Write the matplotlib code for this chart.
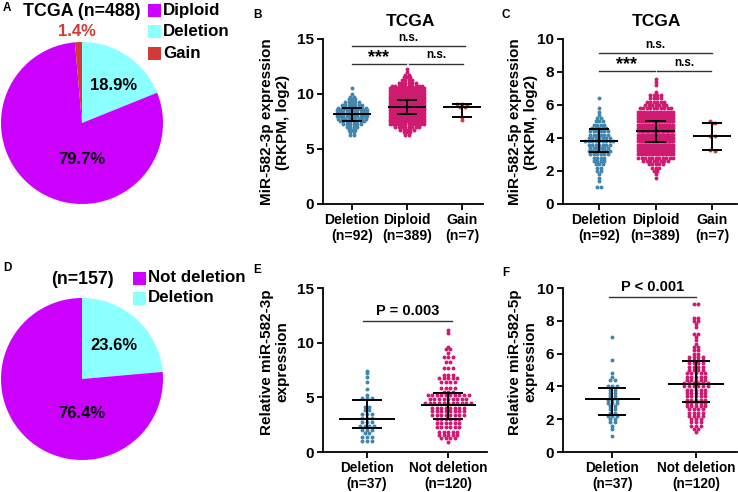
import numpy as np
import matplotlib
matplotlib.use("Agg")
import matplotlib.pyplot as plt
from matplotlib.patches import Rectangle

plt.rcParams['font.family'] = ['Liberation Sans', 'DejaVu Sans']
plt.rcParams['font.weight'] = 'bold'

W, H = 738, 492

# ---------------- DATA ----------------
pieA_labels = ["Deletion", "Diploid", "Gain"]
pieA_values = [18.9, 79.7, 1.4]
pieA_legend = ["Diploid", "Deletion", "Gain"]
pieD_labels = ["Deletion", "Not deletion"]
pieD_values = [23.6, 76.4]
pieD_legend = ["Not deletion", "Deletion"]

tcga_cats = ["Deletion\n(n=92)", "Diploid\n(n=389)", "Gain\n(n=7)"]
val_cats = ["Deletion\n(n=37)", "Not deletion\n(n=120)"]

# Panel B (miR-582-3p, TCGA) : row levels and number of dots per row
b_del_levels = [6.25, 6.5, 6.75, 7.0, 7.25, 7.5, 7.75, 8.0, 8.25, 8.5, 8.75, 9.0, 9.25, 9.5, 9.75, 10.0, 10.5]
b_del_counts = [2, 2, 3, 4, 6, 8, 9, 10, 10, 10, 9, 7, 5, 3, 2, 1, 1]
b_dip_levels = [6.25, 6.5, 6.75, 7.0, 7.25, 7.5, 7.75, 8.0, 8.25, 8.5, 8.75, 9.0, 9.25, 9.5, 9.75,
                10.0, 10.25, 10.5, 10.75, 11.0, 11.25, 11.5, 11.75, 12.0, 12.25]
b_dip_counts = [2, 3, 5, 8, 12, 16, 20, 26, 30, 34, 36, 35, 32, 29, 24, 21, 16, 13, 10, 6, 4, 3, 2, 1, 1]
b_gain_values = [9.07, 9.07, 9.0, 8.85, 8.8, 7.95, 7.64]
b_median = [8.18, 8.82, 8.82]
b_q1 = [7.55, 8.15, 7.88]
b_q3 = [8.75, 9.45, 9.07]

# Panel C (miR-582-5p, TCGA)
c_del_levels = [1.0, 1.4, 1.6, 1.8, 2.0, 2.2, 2.4, 2.6, 2.8, 3.0, 3.2, 3.4, 3.6, 3.8, 4.0, 4.2, 4.4,
                4.6, 4.8, 5.0, 5.2, 5.4, 5.6, 5.8, 6.4]
c_del_counts = [2, 1, 1, 1, 2, 2, 3, 4, 4, 6, 7, 6, 7, 9, 7, 6, 6, 5, 4, 3, 2, 1, 1, 1, 1]
c_dip_levels = [1.6, 1.8, 2.0, 2.2, 2.4, 2.6, 2.8, 3.0, 3.2, 3.4, 3.6, 3.8, 4.0, 4.2, 4.4, 4.6, 4.8,
                5.0, 5.2, 5.4, 5.6, 5.8, 6.0, 6.2, 6.4, 6.6, 6.8, 7.2, 7.4, 7.6]
c_dip_counts = [1, 1, 2, 3, 5, 8, 11, 15, 18, 21, 24, 27, 28, 29, 29, 28, 27, 24, 21, 18, 13, 10, 7,
                6, 4, 4, 1, 1, 1, 1]
c_gain_values = [5.0, 4.92, 4.88, 4.15, 4.1, 3.28, 3.2]
c_median = [3.82, 4.42, 4.12]
c_q1 = [3.17, 3.78, 3.27]
c_q3 = [4.52, 5.05, 4.89]

# Panel E (relative miR-582-3p)
e_del_levels = [1.0, 1.35, 1.7, 2.05, 2.4, 2.75, 3.1, 3.45, 3.8, 4.15, 4.9, 5.2, 5.8, 6.4, 6.9, 7.2, 7.45]
e_del_counts = [3, 3, 2, 3, 4, 3, 3, 3, 2, 2, 3, 1, 1, 1, 1, 1, 1]
e_nd_levels = [0.95, 1.25, 1.56, 1.86, 2.26, 2.62, 3.02, 3.38, 3.75, 4.05, 4.46, 4.85, 5.21, 5.52,
               5.88, 6.38, 6.74, 7.04, 7.71, 8.26, 8.66, 9.03, 9.4, 9.63, 10.9, 11.2]
e_nd_counts = [1, 4, 5, 5, 6, 6, 6, 8, 8, 8, 11, 9, 10, 3, 4, 4, 5, 3, 3, 2, 3, 1, 2, 1, 1, 1]
e_median = [3.0, 4.33]
e_q1 = [2.21, 3.06]
e_q3 = [4.73, 5.42]

# Panel F (relative miR-582-5p)
f_del_levels = [1.0, 1.4, 1.6, 1.8, 2.0, 2.2, 2.4, 2.6, 2.8, 3.0, 3.2, 3.4, 3.6, 3.8, 4.0, 4.4, 4.6, 4.8, 5.6, 7.0]
f_del_counts = [1, 1, 1, 2, 2, 3, 2, 2, 2, 3, 3, 2, 2, 2, 3, 2, 1, 1, 1, 1]
f_nd_levels = [1.2, 1.4, 1.6, 1.8, 2.0, 2.2, 2.4, 2.6, 2.8, 3.0, 3.2, 3.4, 3.6, 3.8, 4.0, 4.2, 4.4,
               4.6, 4.8, 5.0, 5.2, 5.4, 5.6, 5.8, 6.0, 6.2, 6.4, 6.6, 6.8, 7.0, 7.2, 7.6, 7.8, 8.0, 8.2, 9.0]
f_nd_counts = [1, 2, 3, 3, 3, 4, 4, 4, 5, 5, 5, 5, 5, 5, 6, 6, 5, 5, 5, 4, 4, 4, 4, 4, 2, 2, 2, 1, 1,
               1, 2, 1, 1, 2, 2, 2]
f_median = [3.21, 4.17]
f_q1 = [2.24, 3.05]
f_q3 = [3.92, 5.55]

BLUE = "#4186AC"
PINK = "#CF1A72"
MAG = "#CC00FF"
CYAN = "#8CFFFF"
RED = "#D13A36"

fig = plt.figure(figsize=(W / 100, H / 100), dpi=100)


def fx(x):
    return x / W


def fy(y):
    return 1 - y / H


def ftext(x, y, s, **kw):
    fig.text(fx(x), fy(y), s, **kw)


def add_ax(l, r, t, b):
    return fig.add_axes([fx(l), fy(b), (r - l) / W, (b - t) / H])


# ---------------- PIES ----------------
def pie(center, r, labels, values, colors, texts, title, legend, legcolors, legx, legy, titlepos):
    ax = add_ax(center[0] - r, center[0] + r, center[1] - r, center[1] + r)
    ax.pie(values, colors=colors, startangle=90, counterclock=False, radius=1,
           wedgeprops=dict(linewidth=0))
    ax.set_xlim(-1, 1)
    ax.set_ylim(-1, 1)
    ax.set_aspect('auto')
    ax.axis('off')
    for (tx, ty, s, c) in texts:
        ftext(tx, ty, s, ha='center', va='center', fontsize=12, color=c, fontweight='bold')
    ftext(titlepos[0], titlepos[1], title, ha='center', va='center', fontsize=12.8, fontweight='bold')
    for i, (lab, col) in enumerate(zip(legend, legcolors)):
        y0 = legy[i]
        fig.add_artist(Rectangle((fx(legx), fy(y0 + 6.5)), 13 / W, 13 / H, transform=fig.transFigure,
                                 facecolor=col, edgecolor='none'))
        ftext(legx + 15, y0, lab, ha='left', va='center', fontsize=12.2, fontweight='bold')


colA = {"Deletion": CYAN, "Diploid": MAG, "Gain": RED}
pie((82, 123), 81, pieA_labels, pieA_values, [colA[k] for k in pieA_labels],
    [(114, 85, "18.9%", "black"), (82, 160, "79.7%", "black"), (77, 32, "1.4%", RED)],
    "TCGA (n=488)", pieA_legend, [colA[k] for k in pieA_legend], 148, [10, 31, 53], (82, 12))

colD = {"Deletion": CYAN, "Not deletion": MAG}
pie((82, 379), 81, pieD_labels, pieD_values, [colD[k] for k in pieD_labels],
    [(114, 346, "23.6%", "black"), (82, 413, "76.4%", "black")],
    "(n=157)", pieD_legend, [colD[k] for k in pieD_legend], 133, [278, 298], (82, 280))


# ---------------- DOT PLOTS ----------------
def swarm(ax, xc, levels, counts, color, dx=0.062, maxhalf=0.31):
    xs, ys = [], []
    for lv, n in zip(levels, counts):
        if n <= 0:
            continue
        step = dx if (n - 1) * dx / 2 <= maxhalf else 2 * maxhalf / (n - 1)
        offs = (np.arange(n) - (n - 1) / 2) * step
        xs.extend(xc + offs)
        ys.extend([lv] * n)
    ax.scatter(xs, ys, s=8, color=color, linewidths=0, zorder=2)


def swarm_values(ax, xc, values, color, dx=0.056):
    vals = np.sort(np.array(values))[::-1]
    rows = []
    for v in vals:
        if rows and abs(rows[-1][0] - v) < 0.12:
            rows[-1][1].append(v)
        else:
            rows.append([v, [v]])
    xs, ys = [], []
    for _, vs in rows:
        n = len(vs)
        offs = (np.arange(n) - (n - 1) / 2) * dx * 1.6
        xs.extend(xc + offs)
        ys.extend(vs)
    ax.scatter(xs, ys, s=8, color=color, linewidths=0, zorder=2)


def errbars(ax, med, q1, q3, half=0.34, qhalf=0.18):
    for i, (m, a, b) in enumerate(zip(med, q1, q3)):
        ax.plot([i - half, i + half], [m, m], color='black', lw=1.4, zorder=3, solid_capstyle='butt')
        ax.plot([i - qhalf, i + qhalf], [a, a], color='black', lw=1.4, zorder=3, solid_capstyle='butt')
        ax.plot([i - qhalf, i + qhalf], [b, b], color='black', lw=1.4, zorder=3, solid_capstyle='butt')
        ax.plot([i, i], [a, b], color='black', lw=1.4, zorder=3)


def style(ax, ymax, yticks, cats, xlim, catsize=10.1):
    ax.set_ylim(0, ymax)
    ax.set_xlim(*xlim)
    ax.set_yticks(yticks)
    ax.set_xticks(range(len(cats)))
    ax.set_xticklabels(cats, fontsize=catsize, fontweight='bold', linespacing=1.2)
    for lab in ax.get_yticklabels():
        lab.set_fontweight('bold')
        lab.set_fontsize(11)
    for s in ['top', 'right']:
        ax.spines[s].set_visible(False)
    for s in ['left', 'bottom']:
        ax.spines[s].set_linewidth(1.3)
    ax.tick_params(axis='both', length=4, width=1.3, pad=2.5)
    ax.patch.set_alpha(0)


def bracket(ax, x0, x1, y, txt, fs, dy=1.5):
    ax.plot([x0, x1], [y, y], color='#333333', lw=1.0, zorder=3)
    ax.annotate(txt, xy=((x0 + x1) / 2, y), xytext=(0, dy), textcoords='offset points',
                ha='center', va='bottom', fontsize=fs, fontweight='bold', annotation_clip=False)


# B
axB = add_ax(323, 483, 39, 204)
swarm(axB, 0, b_del_levels, b_del_counts, BLUE)
swarm(axB, 1, b_dip_levels, b_dip_counts, PINK)
swarm_values(axB, 2, b_gain_values, RED)
errbars(axB, b_median, b_q1, b_q3)
style(axB, 15, [0, 5, 10, 15], tcga_cats, (-0.527, 2.38))
bracket(axB, 0, 2.05, 14.4, "n.s.", 8.5, 1.5)
bracket(axB, 0, 0.98, 12.77, "***", 13, -1.5)
bracket(axB, 1.04, 2.02, 12.77, "n.s.", 8.5, 1.5)

# C
axC = add_ax(563, 737, 39, 204)
swarm(axC, 0, c_del_levels, c_del_counts, BLUE)
swarm(axC, 1, c_dip_levels, c_dip_counts, PINK)
swarm_values(axC, 2, c_gain_values, RED)
errbars(axC, c_median, c_q1, c_q3)
style(axC, 10, [0, 2, 4, 6, 8, 10], tcga_cats, (-0.64, 2.44))
bracket(axC, 0, 2.0, 9.17, "n.s.", 8.5, 1.5)
bracket(axC, 0, 0.98, 8.06, "***", 13, -1.5)
bracket(axC, 1.03, 1.98, 8.06, "n.s.", 8.5, 1.5)

# E
axE = add_ax(323, 487, 288, 452)
swarm(axE, 0, e_del_levels, e_del_counts, BLUE, dx=0.056)
swarm(axE, 1, e_nd_levels, e_nd_counts, PINK, dx=0.056)
errbars(axE, e_median, e_q1, e_q3)
style(axE, 15, [0, 5, 10, 15], val_cats, (-0.543, 1.48), catsize=9.8)
bracket(axE, -0.05, 1.05, 11.95, "P = 0.003", 10.5, 2.5)

# F
axF = add_ax(563, 737, 288, 452)
swarm(axF, 0, f_del_levels, f_del_counts, BLUE, dx=0.056)
swarm(axF, 1, f_nd_levels, f_nd_counts, PINK, dx=0.056)
errbars(axF, f_median, f_q1, f_q3, half=0.33, qhalf=0.17)
style(axF, 10, [0, 2, 4, 6, 8, 10], val_cats, (-0.588, 1.49), catsize=9.8)
bracket(axF, -0.04, 1.0, 9.45, "P < 0.001", 10.5, 2.5)

# y labels
ylab_kw = dict(rotation=90, ha='center', va='center', fontsize=11, fontweight='bold', linespacing=1.15)
ftext(275, 122, "MiR-582-3p expression\n(RKPM, log2)", **ylab_kw)
ftext(523, 122, "MiR-582-5p expression\n(RKPM, log2)", **ylab_kw)
ftext(275, 362, "Relative miR-582-3p\nexpression", **ylab_kw)
ftext(523, 362, "Relative miR-582-5p\nexpression", **ylab_kw)

# titles
ftext(410, 21, "TCGA", ha='center', va='center', fontsize=12.5, fontweight='bold')
ftext(656, 22, "TCGA", ha='center', va='center', fontsize=12.5, fontweight='bold')

# panel letters
for (x, y, s) in [(3, 8, "A"), (253, 15, "B"), (502, 15, "C"), (3, 268, "D"), (253, 270, "E"), (502, 273, "F")]:
    ftext(x, y, s, ha='left', va='center', fontsize=8.5, fontweight='bold')

fig.savefig("out.png", dpi=100)
